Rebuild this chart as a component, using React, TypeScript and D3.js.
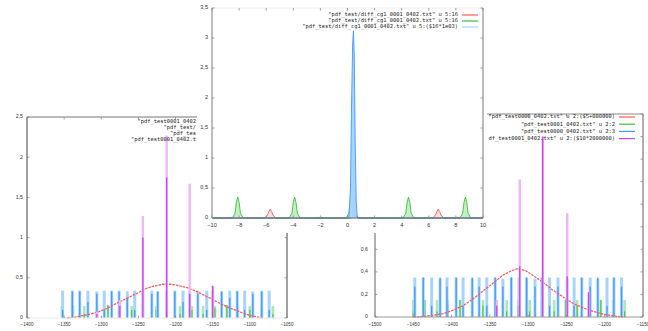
import React from 'react';
import * as d3 from 'd3';

// ---------- top panel (diff pdf, x in -10..10) ----------
const topXTicks = [-10, -8, -6, -4, -2, 0, 2, 4, 6, 8, 10];
const topYTicks = [0, 0.5, 1, 1.5, 2, 2.5, 3, 3.5];
const topRed: [number, number][] = [
  [-10, 0], [-6.1, 0], [-5.9, 0.05], [-5.8, 0.11], [-5.7, 0.15], [-5.6, 0.11], [-5.5, 0.05], [-5.3, 0],
  [0.3, 0], [0.45, 0.06], [0.55, 0.12], [0.65, 0.06], [0.8, 0],
  [6.3, 0], [6.5, 0.05], [6.6, 0.11], [6.7, 0.15], [6.8, 0.11], [6.9, 0.05], [7.1, 0], [10, 0],
];
const topGreen: [number, number][] = [
  [-10, 0], [-8.5, 0], [-8.3, 0.08], [-8.2, 0.26], [-8.1, 0.35], [-8.0, 0.26], [-7.9, 0.08], [-7.7, 0],
  [-4.3, 0], [-4.1, 0.08], [-4.0, 0.26], [-3.9, 0.35], [-3.8, 0.26], [-3.7, 0.08], [-3.5, 0],
  [-0.1, 0], [0.1, 0.08], [0.2, 0.26], [0.3, 0.35], [0.4, 0.26], [0.5, 0.08], [0.7, 0],
  [4.1, 0], [4.3, 0.08], [4.4, 0.26], [4.5, 0.35], [4.6, 0.26], [4.7, 0.08], [4.9, 0],
  [8.3, 0], [8.5, 0.08], [8.6, 0.26], [8.7, 0.35], [8.8, 0.26], [8.9, 0.08], [9.1, 0], [10, 0],
];
const topBlue: [number, number][] = [
  [-10, 0], [0.1, 0], [0.22, 0.5], [0.3, 1.9], [0.38, 2.9], [0.44, 3.12], [0.5, 2.7],
  [0.56, 1.4], [0.64, 0.3], [0.72, 0], [10, 0],
];
const topLegend = [
  '"pdf_test/diff_cg1_0001_0402.txt" u 5:16',
  '"pdf_test/diff_cg1_0001_0402.txt" u 5:16',
  '"pdf_test/diff_cg1_0001_0402.txt" u 5:($16*1e03)',
];

// ---------- left panel ----------
const leftXTicks = [-1400, -1350, -1300, -1250, -1200, -1150, -1100, -1050];
const leftYTicks = [0, 0.5, 1, 1.5, 2, 2.5];
const leftRed: [number, number][] = [
  [-1346, 0], [-1335, 0.01], [-1325, 0.03], [-1314, 0.05], [-1303, 0.08], [-1292, 0.12], [-1282, 0.17],
  [-1271, 0.22], [-1260, 0.27], [-1249, 0.32], [-1239, 0.37], [-1228, 0.4], [-1217, 0.42], [-1206, 0.42],
  [-1195, 0.4], [-1185, 0.38], [-1174, 0.34], [-1163, 0.29], [-1152, 0.24], [-1142, 0.19], [-1131, 0.14],
  [-1120, 0.1], [-1109, 0.06], [-1099, 0.03], [-1088, 0.01], [-1082, 0],
];
const leftBlueX = [-1352, -1339, -1329, -1318, -1306, -1296, -1286, -1276, -1265, -1255, -1244, -1232, -1224, -1212,
  -1201, -1190, -1181, -1170, -1158, -1150, -1138, -1127, -1117, -1107, -1096, -1084, -1074];
const leftBlueH = [0.34, 0.34, 0.34, 0.34, 0.33, 0.34, 0.34, 0.34, 0.33, 0.34, 0.34, 0.34, 0.33, 0.34,
  0.34, 0.34, 0.33, 0.34, 0.34, 0.34, 0.33, 0.34, 0.34, 0.34, 0.33, 0.34, 0.34];
const leftBlueCore = [0.1, 0.33, 0.33, 0.2, 0.3, 0.1, 0.33, 0.33, 0.25, 0.1, 0.33, 0.3, 0.33, 0.1,
  0.33, 0.2, 0.33, 0.3, 0.1, 0.33, 0.33, 0.25, 0.33, 0.1, 0.3, 0.33, 0.1];
const leftGreenX = [-1353, -1338, -1323, -1306, -1291, -1275, -1259, -1244, -1226, -1212, -1194, -1178, -1163,
  -1147, -1131, -1116, -1100, -1084, -1069];
const leftGreenH = [0.15, 0.16, 0.15, 0.15, 0.16, 0.15, 0.15, 0.15, 0.15, 0.15, 0.15, 0.15, 0.15,
  0.15, 0.16, 0.15, 0.15, 0.15, 0.15];
const leftGreenCore = [0.05, 0.16, 0.05, 0.1, 0.16, 0.05, 0.1, 0.05, 0.1, 0.05, 0.05, 0.1, 0.05,
  0.12, 0.16, 0.05, 0.1, 0.05, 0.05];
const leftMagX = [-1306, -1275, -1244, -1212, -1181, -1150];
const leftMagH = [0.08, 0.22, 1.27, 2.27, 1.67, 0.4];
const leftMagCore = [0.05, 0.15, 1.0, 1.75, 0.3, 0.4];
// only the part of the key left of the top screenshot is visible
const leftLegend = [
  '"pdf_test0001_0402',
  '"pdf_test/',
  '"pdf_tes',
  '"pdf_test0001_0402.t',
];

// ---------- right panel ----------
const rightXTicks = [-1500, -1450, -1400, -1350, -1300, -1250, -1200, -1150];
const rightYTicks = [0, 0.2, 0.4, 0.6, 0.8, 1, 1.2, 1.4, 1.6, 1.8];
const rightRed: [number, number][] = [
  [-1450, 0], [-1437, 0.005], [-1424, 0.015], [-1411, 0.03], [-1398, 0.06], [-1385, 0.1], [-1372, 0.16],
  [-1359, 0.23], [-1346, 0.3], [-1333, 0.37], [-1322, 0.41], [-1313, 0.43], [-1303, 0.41], [-1294, 0.37],
  [-1281, 0.31], [-1268, 0.24], [-1255, 0.18], [-1241, 0.12], [-1228, 0.08], [-1215, 0.05], [-1202, 0.025],
  [-1189, 0.01], [-1176, 0],
];
const rightBlueX = [-1448, -1437, -1426, -1415, -1406, -1394, -1385, -1373, -1364, -1354, -1343, -1333, -1322,
  -1312, -1302, -1291, -1282, -1272, -1261, -1249, -1240, -1230, -1219, -1209, -1197, -1188, -1178];
const rightBlueH = [0.35, 0.35, 0.35, 0.34, 0.35, 0.35, 0.35, 0.34, 0.35, 0.35, 0.35, 0.34, 0.35,
  0.35, 0.35, 0.34, 0.35, 0.35, 0.35, 0.34, 0.35, 0.35, 0.35, 0.34, 0.35, 0.35, 0.35];
const rightBlueCore = [0.27, 0.35, 0.1, 0.35, 0.27, 0.35, 0.1, 0.35, 0.27, 0.1, 0.35, 0.27, 0.35,
  0.1, 0.35, 0.27, 0.35, 0.1, 0.27, 0.35, 0.1, 0.35, 0.27, 0.35, 0.1, 0.35, 0.27];
const rightGreenX = [-1450, -1435, -1419, -1405, -1389, -1373, -1359, -1342, -1328, -1313, -1298, -1282, -1266,
  -1251, -1236, -1221, -1205, -1189, -1174];
const rightGreenH = [0.15, 0.15, 0.15, 0.15, 0.15, 0.15, 0.15, 0.15, 0.15, 0.15, 0.15, 0.15, 0.15,
  0.15, 0.15, 0.15, 0.15, 0.15, 0.15];
const rightGreenCore = [0.05, 0.15, 0.05, 0.1, 0.15, 0.05, 0.1, 0.15, 0.05, 0.1, 0.05, 0.15, 0.05,
  0.15, 0.1, 0.05, 0.15, 0.05, 0.05];
const rightMagX = [-1341, -1311, -1281, -1249, -1221];
const rightMagH = [0.15, 1.22, 1.6, 0.92, 0.22];
const rightMagCore = [0.1, 0.45, 1.6, 0.36, 0.22];
const rightLegend = [
  '"pdf_test0000_0402.txt" u 2:($5+000000)',
  '"pdf_test0001_0402.txt" u 2:2',
  '"pdf_test0000_0402.txt" u 2:3',
  'df_test0001_0402.txt" u 2:($10*2000000)',
];

const RED = '#ff5a5a';
const GREEN = '#3cbf3c';
const GREEN_L = '#aee8ae';
const BLUE = '#3d9bff';
const BLUE_L = '#a9d3ff';
const MAG = '#c844ee';
const MAG_L = '#f0b6fa';

type Bars = { x: number[]; h: number[]; color: string; w: number };
type Curve = { pts: [number, number][]; color: string; width: number; dash?: string; fill?: string };

interface PanelProps {
  x0: number; x1: number; y0: number; y1: number;
  xDomain: [number, number]; yDomain: [number, number];
  xTicks: number[]; yTicks: number[];
  bars: Bars[]; curves: Curve[]; front?: Bars[];
  legend: string[]; legendColors: string[];
  legendRight: number; legendTop: number; legendStep: number; legendSamples?: boolean;
  fx: number; fy: number; xLabelY: number; yLabelGap: number;
  sideColor: string; sideWidth: number; hColor: string; topColor: string;
}

const fmt = (v: number) => String(v).replace('.', ',').replace('-', '\u2212');

const Panel: React.FC<PanelProps> = (p) => {
  const xs = d3.scaleLinear().domain(p.xDomain).range([p.x0, p.x1]);
  const ys = d3.scaleLinear().domain(p.yDomain).range([p.y1, p.y0]);
  const line = d3.line<[number, number]>().x(d => xs(d[0])).y(d => ys(d[1]));
  const area = d3.area<[number, number]>().x(d => xs(d[0])).y0(ys(0)).y1(d => ys(d[1]));
  const drawBars = (b: Bars, k: string) => b.x.map((v, i) => (
    <rect key={k + i} x={xs(v) - b.w / 2} y={ys(b.h[i])} width={b.w} height={ys(0) - ys(b.h[i])} fill={b.color} />
  ));
  return (
    <g>
      {p.bars.map((b, j) => drawBars(b, 'b' + j))}
      {p.curves.map((c, j) => (
        <g key={'c' + j}>
          {c.fill && <path d={area(c.pts) || ''} fill={c.fill} />}
          <path d={line(c.pts) || ''} fill="none" stroke={c.color} strokeWidth={c.width} strokeDasharray={c.dash} />
        </g>
      ))}
      {(p.front || []).map((b, j) => drawBars(b, 'f' + j))}
      {/* border */}
      <line x1={p.x0} x2={p.x1} y1={p.y0} y2={p.y0} stroke={p.topColor} strokeWidth={1} />
      <line x1={p.x0} x2={p.x1} y1={p.y1} y2={p.y1} stroke={p.hColor} strokeWidth={1} />
      <line x1={p.x0} x2={p.x0} y1={p.y0} y2={p.y1} stroke={p.sideColor} strokeWidth={p.sideWidth} />
      <line x1={p.x1} x2={p.x1} y1={p.y0} y2={p.y1} stroke={p.sideColor} strokeWidth={p.sideWidth} />
      {/* ticks */}
      {p.xTicks.map(t => (
        <g key={'xt' + t}>
          <line x1={xs(t)} x2={xs(t)} y1={p.y1} y2={p.y1 - 2.5} stroke="#888" strokeWidth={0.8} />
          <line x1={xs(t)} x2={xs(t)} y1={p.y0} y2={p.y0 + 2.5} stroke="#888" strokeWidth={0.8} />
          <text x={xs(t)} y={p.xLabelY} fontSize={p.fx} textAnchor="middle" dominantBaseline="middle" fill="#333">{fmt(t)}</text>
        </g>
      ))}
      {p.yTicks.map(t => (
        <g key={'yt' + t}>
          <line x1={p.x0} x2={p.x0 + 2.5} y1={ys(t)} y2={ys(t)} stroke="#888" strokeWidth={0.8} />
          <line x1={p.x1} x2={p.x1 - 2.5} y1={ys(t)} y2={ys(t)} stroke="#888" strokeWidth={0.8} />
          <text x={p.x0 - p.yLabelGap} y={ys(t)} fontSize={p.fy} textAnchor="end" dominantBaseline="middle" fill="#333">{fmt(t)}</text>
        </g>
      ))}
      {/* legend */}
      {p.legend.map((s, i) => (
        <g key={'lg' + i}>
          <text x={p.legendRight} y={p.legendTop + i * p.legendStep} fontSize={5.4} fontFamily="DejaVu Sans Mono, monospace"
            textAnchor="end" dominantBaseline="middle" fill="#222">{s}</text>
          {p.legendSamples !== false && (
            <line x1={p.legendRight + 4} x2={p.legendRight + 20} y1={p.legendTop + i * p.legendStep}
              y2={p.legendTop + i * p.legendStep} stroke={p.legendColors[i]} strokeWidth={1.2} />
          )}
        </g>
      ))}
    </g>
  );
};

export default function App() {
  return (
    <svg width={648} height={331} style={{ position: 'absolute', left: 0, top: 0, background: '#fff' }}
      fontFamily="Liberation Sans, Arial, sans-serif">
      <rect width={648} height={331} fill="#fff" />
      <Panel
        x0={27} x1={287} y0={117} y1={318}
        xDomain={[-1400, -1050]} yDomain={[0, 2.5]}
        xTicks={leftXTicks} yTicks={leftYTicks}
        bars={[
          { x: leftGreenX, h: leftGreenH, color: GREEN_L, w: 2.6 },
          { x: leftGreenX, h: leftGreenCore, color: GREEN, w: 1 },
          { x: leftBlueX, h: leftBlueH, color: BLUE_L, w: 3 },
          { x: leftBlueX, h: leftBlueCore, color: BLUE, w: 1.3 },
        ]}
        curves={[{ pts: leftRed, color: RED, width: 1.3, dash: '2.5 1' }]}
        front={[
          { x: leftMagX, h: leftMagH, color: MAG_L, w: 2.4 },
          { x: leftMagX, h: leftMagCore, color: MAG, w: 1.3 },
        ]}
        legend={leftLegend} legendColors={[RED, GREEN, BLUE, MAG]} legendSamples={false}
        legendRight={196} legendTop={122} legendStep={5.8}
        fx={4.6} fy={5.2} xLabelY={325} yLabelGap={4}
        sideColor="#a0a0a0" sideWidth={2} hColor="#e8e8e8" topColor="#777"
      />
      <Panel
        x0={375} x1={643} y0={114} y1={317}
        xDomain={[-1500, -1150]} yDomain={[0, 1.8]}
        xTicks={rightXTicks} yTicks={rightYTicks}
        bars={[
          { x: rightGreenX, h: rightGreenH, color: GREEN_L, w: 2.6 },
          { x: rightGreenX, h: rightGreenCore, color: GREEN, w: 1 },
          { x: rightBlueX, h: rightBlueH, color: BLUE_L, w: 3 },
          { x: rightBlueX, h: rightBlueCore, color: BLUE, w: 1.3 },
        ]}
        curves={[{ pts: rightRed, color: RED, width: 1.3, dash: '2.5 1' }]}
        front={[
          { x: rightMagX, h: rightMagH, color: MAG_L, w: 2.4 },
          { x: rightMagX, h: rightMagCore, color: MAG, w: 1.3 },
        ]}
        legend={rightLegend} legendColors={[RED, GREEN, BLUE, MAG]}
        legendRight={615} legendTop={117} legendStep={7.2}
        fx={4.6} fy={5.2} xLabelY={325} yLabelGap={7}
        sideColor="#b0b0b0" sideWidth={2} hColor="#999" topColor="#888"
      />
      {/* top screenshot covers the other two */}
      <rect x={197} y={0} width={290} height={233} fill="#fff" />
      <Panel
        x0={212} x1={483} y0={8} y1={218}
        xDomain={[-10, 10]} yDomain={[0, 3.5]}
        xTicks={topXTicks} yTicks={topYTicks}
        bars={[]}
        curves={[
          { pts: topRed, color: RED, width: 0.9, fill: '#ffe0e0' },
          { pts: topGreen, color: GREEN, width: 0.9, fill: '#c4efc4' },
          { pts: topBlue, color: BLUE, width: 0.9, fill: BLUE_L },
        ]}
        legend={topLegend} legendColors={[RED, GREEN, BLUE_L]}
        legendRight={458} legendTop={15} legendStep={6}
        fx={5.6} fy={5.6} xLabelY={226} yLabelGap={4}
        sideColor="#999" sideWidth={1.3} hColor="#666" topColor="#eee"
      />
    </svg>
  );
}
